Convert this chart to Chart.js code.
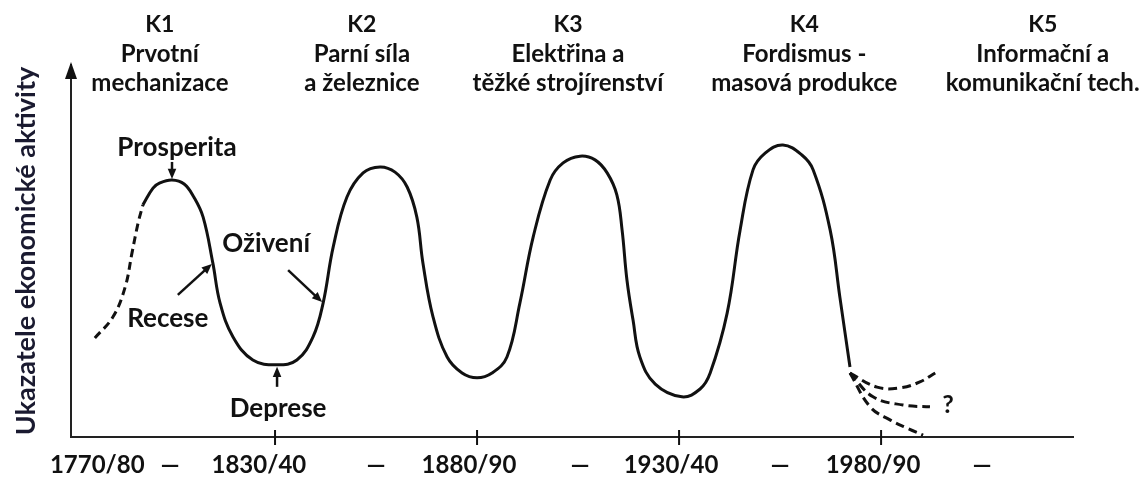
<!DOCTYPE html>
<html>
<head>
<meta charset="utf-8">
<script src="https://cdn.jsdelivr.net/npm/chart.js@4.4.0/dist/chart.umd.min.js"></script>
<style>
  html, body { margin: 0; padding: 0; background: #fff; }
  #wrap { width: 1145px; height: 480px; }
</style>
</head>
<body>
<div id="wrap"><canvas id="kondratievChart" width="1145" height="480"></canvas></div>
<script>
'use strict';

// dashed start of the first wave
var riseYears  = [1790.4, 1794.9, 1797.9, 1799.6, 1801.1, 1802.3];
var riseValues = [26.6, 32.3, 40.3, 49.5, 57.5, 62.4];

// main solid wave K1 - K4
var waveYears = [1802.3, 1804.8, 1806.5, 1809.5, 1812.5, 1814.9, 1817.2, 1819.6, 1821.4, 1824.6,
  1829.5, 1835.5, 1840.4, 1844.4, 1846.9, 1849.4, 1852.8, 1856.8, 1861.0, 1864.7,
  1867.7, 1870.1, 1871.6, 1874.1, 1877.6, 1881.3, 1885.0, 1888.7, 1892.4, 1895.6,
  1898.9, 1903.1, 1906.3, 1910.5, 1914.2, 1917.2, 1919.6, 1920.9, 1922.1, 1923.6,
  1925.3, 1929.1, 1935.7, 1940.2, 1942.7, 1946.9, 1950.1, 1953.3, 1956.3, 1960.7,
  1965.4, 1968.2, 1972.4, 1974.8, 1977.3];
var waveValues = [62.4, 66.9, 68.3, 69.1, 68.0, 64.5, 59.1, 46.8, 36.0, 26.9,
  20.7, 19.4, 20.7, 26.9, 36.0, 51.1, 64.5, 71.0, 72.6, 71.2,
  67.2, 59.1, 46.8, 32.3, 21.5, 17.2, 15.9, 17.2, 21.5, 36.0,
  53.8, 69.1, 73.7, 75.5, 74.5, 71.0, 65.1, 55.6, 42.2, 31.5,
  21.5, 14.2, 10.8, 12.9, 17.2, 33.3, 55.6, 71.8, 76.3, 78.5,
  75.8, 71.8, 55.6, 37.6, 18.8];

// K5 - three possible continuations
var upperYears  = [1977.3, 1984.0, 1989.7, 1994.6, 1998.4];
var upperValues = [17.2, 13.4, 13.2, 14.8, 17.2];
var middleYears  = [1977.3, 1983.0, 1990.4, 1997.1];
var middleValues = [17.2, 10.8, 8.6, 8.1];
var lowerYears  = [1977.3, 1982.3, 1987.2, 1991.4, 1995.4];
var lowerValues = [17.2, 8.1, 4.6, 2.4, 0.5];

// x axis labels
var xLabelYears = [1791, 1809, 1831, 1860, 1883, 1910.5, 1933, 1960, 1983, 2010];
var xLabels = ['1770/80', '\u2014', '1830/40', '\u2014', '1880/90', '\u2014', '1930/40', '\u2014', '1980/90', '\u2014'];
var tickYears = [1835, 1885, 1935, 1985];

// wave headers
var waveNames = ['K1', 'K2', 'K3', 'K4', 'K5'];
var waveTopics = [
  ['Prvotní', 'mechanizace'],
  ['Parní síla', 'a železnice'],
  ['Elektřina a', 'těžké strojírenství'],
  ['Fordismus -', 'masová produkce'],
  ['Informační a', 'komunikační tech.']
];
var waveCenters = [1806.5, 1856.5, 1907.5, 1966, 2025];

// phases of the first wave (point on the curve)
var phaseLabels = ['Prosperita', 'Recese', 'Deprese', 'Oživení'];
var phaseYears  = [1809.5, 1819.6, 1835.5, 1846.9];
var phaseValues = [69.1, 46.8, 19.4, 36.0];

var FONT = 'Lato, "Open Sans", sans-serif';
var INK = '#111';

function toPoints(xs, ys) {
  return xs.map(function (x, i) { return { x: x, y: ys[i] }; });
}

function arrow(ctx, x1, y1, x2, y2) {
  var a = Math.atan2(y2 - y1, x2 - x1);
  var h = 11;
  ctx.beginPath();
  ctx.moveTo(x1, y1);
  ctx.lineTo(x2 - Math.cos(a) * h * 0.7, y2 - Math.sin(a) * h * 0.7);
  ctx.stroke();
  ctx.beginPath();
  ctx.moveTo(x2, y2);
  ctx.lineTo(x2 - h * Math.cos(a - 0.4), y2 - h * Math.sin(a - 0.4));
  ctx.lineTo(x2 - h * Math.cos(a + 0.4), y2 - h * Math.sin(a + 0.4));
  ctx.closePath();
  ctx.fill();
}

var annotations = {
  id: 'annotations',
  afterDraw: function (chart) {
    var ctx = chart.ctx;
    var xs = chart.scales.x, ys = chart.scales.y;
    var area = chart.chartArea;
    ctx.save();
    ctx.fillStyle = INK;
    ctx.strokeStyle = INK;

    // arrow head on y axis
    ctx.beginPath();
    ctx.moveTo(area.left, area.top - 3);
    ctx.lineTo(area.left - 6, area.top + 14);
    ctx.lineTo(area.left + 6, area.top + 14);
    ctx.closePath();
    ctx.fill();

    // tick marks on x axis
    ctx.lineWidth = 2;
    tickYears.forEach(function (yr) {
      var px = xs.getPixelForValue(yr);
      ctx.beginPath();
      ctx.moveTo(px, area.bottom - 7);
      ctx.lineTo(px, area.bottom + 8);
      ctx.stroke();
    });

    // headers
    ctx.textAlign = 'center';
    ctx.textBaseline = 'middle';
    waveNames.forEach(function (name, i) {
      var cx = xs.getPixelForValue(waveCenters[i]);
      ctx.font = 'bold 23px ' + FONT;
      ctx.fillText(name, cx, 25);
      ctx.font = 'bold 24px ' + FONT;
      ctx.fillText(waveTopics[i][0], cx, 54);
      ctx.fillText(waveTopics[i][1], cx, 83);
    });

    // phase labels with arrows
    ctx.font = 'bold 26px ' + FONT;
    ctx.lineWidth = 2.5;
    var tips = phaseYears.map(function (yr, i) {
      return { x: xs.getPixelForValue(yr), y: ys.getPixelForValue(phaseValues[i]) };
    });
    // Prosperita
    ctx.fillText(phaseLabels[0], tips[0].x + 5, tips[0].y - 32);
    arrow(ctx, tips[0].x, tips[0].y - 18, tips[0].x, tips[0].y - 1);
    // Recese
    ctx.fillText(phaseLabels[1], tips[1].x - 45, tips[1].y + 56);
    arrow(ctx, tips[1].x - 35, tips[1].y + 32, tips[1].x - 1, tips[1].y + 1);
    // Deprese
    ctx.fillText(phaseLabels[2], tips[2].x + 1, tips[2].y + 44);
    arrow(ctx, tips[2].x, tips[2].y + 22, tips[2].x, tips[2].y + 2);
    // Oživení
    ctx.fillText(phaseLabels[3], tips[3].x - 57, tips[3].y - 59);
    arrow(ctx, tips[3].x - 35, tips[3].y - 33, tips[3].x - 1, tips[3].y - 1);

    // question mark after the branches
    var qx = xs.getPixelForValue(middleYears[middleYears.length - 1]);
    var qy = ys.getPixelForValue(middleValues[middleValues.length - 1]);
    ctx.font = 'bold 25px ' + FONT;
    ctx.fillText('?', qx + 18, qy - 2);
    ctx.restore();
  }
};

var lineBase = {
  borderColor: INK,
  borderWidth: 3,
  pointRadius: 0,
  fill: false,
  tension: 0.4
};

var datasets = [
  Object.assign({ data: toPoints(riseYears, riseValues), borderDash: [8, 5] }, lineBase),
  Object.assign({ data: toPoints(waveYears, waveValues) }, lineBase),
  Object.assign({ data: toPoints(upperYears, upperValues), borderDash: [9, 5] }, lineBase),
  Object.assign({ data: toPoints(middleYears, middleValues), borderDash: [9, 5] }, lineBase),
  Object.assign({ data: toPoints(lowerYears, lowerValues), borderDash: [9, 5] }, lineBase)
];

var ctx = document.getElementById('kondratievChart').getContext('2d');
var chart = new Chart(ctx, {
  type: 'line',
  data: { datasets: datasets },
  options: {
    responsive: false,
    animation: false,
    layout: { padding: { top: 65, right: 72, left: 0, bottom: 0 } },
    plugins: { legend: { display: false }, tooltip: { enabled: false } },
    scales: {
      x: {
        type: 'linear',
        min: 1784.5,
        max: 2032.5,
        afterFit: function (s) { s.height = 43; },
        afterBuildTicks: function (s) {
          s.ticks = xLabelYears.map(function (v) { return { value: v }; });
        },
        grid: { display: false, drawTicks: false },
        border: { display: true, color: '#222', width: 2 },
        ticks: {
          autoSkip: false,
          maxRotation: 0,
          padding: 14,
          color: INK,
          font: { family: FONT, size: 24, weight: 'bold' },
          callback: function (v, i) { return xLabels[i]; }
        }
      },
      y: {
        min: 0,
        max: 100,
        afterFit: function (s) { s.width = 71; },
        grid: { display: false },
        border: { display: true, color: '#222', width: 2 },
        ticks: { display: false },
        title: {
          display: true,
          text: 'Ukazatele ekonomické aktivity',
          color: '#1a1a30',
          font: { family: FONT, size: 27, weight: 'bold' },
          padding: { top: 10, bottom: 0 }
        }
      }
    }
  },
  plugins: [annotations]
});
</script>
</body>
</html>
